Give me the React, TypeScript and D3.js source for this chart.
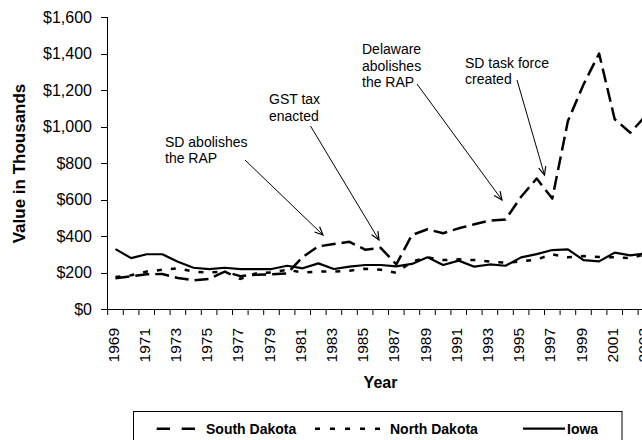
import React from "react";
import * as d3 from "d3";

const years: number[] = d3.range(1969, 2004);
const southDakota: number[] = [168, 180, 190, 192, 170, 157, 165, 205, 180, 188, 190, 195, 285, 343, 356, 368, 325, 335, 245, 405, 437, 415, 442, 464, 485, 490, 615, 715, 605, 1030, 1230, 1400, 1040, 966, 1060];
const northDakota: number[] = [175, 185, 205, 215, 223, 205, 200, 205, 165, 195, 200, 215, 200, 205, 205, 210, 220, 215, 198, 260, 283, 268, 272, 268, 260, 254, 260, 272, 300, 283, 290, 285, 283, 278, 300];
const iowa: number[] = [328, 279, 300, 300, 259, 226, 219, 226, 219, 219, 219, 237, 223, 250, 219, 232, 241, 241, 234, 247, 283, 241, 265, 232, 244, 237, 283, 301, 323, 327, 268, 261, 309, 294, 305];
const yTicks: number[] = [0, 200, 400, 600, 800, 1000, 1200, 1400, 1600];
const seriesNames: string[] = ["South Dakota", "North Dakota", "Iowa"];

const annotations = [
  { lines: ["SD abolishes", "the RAP"], x: 165, y: 146.5, from: [245, 160], to: [323, 235] },
  { lines: ["GST tax", "enacted"], x: 269, y: 104, from: [310.5, 126], to: [379, 240] },
  { lines: ["Delaware", "abolishes", "the RAP"], x: 362, y: 54, from: [417, 84], to: [502, 200] },
  { lines: ["SD task force", "created"], x: 465, y: 67.5, from: [517, 80], to: [544.5, 175] },
];

const FONT = "Arial, 'Liberation Sans', sans-serif";

function Arrow({ from, to }: { from: number[]; to: number[] }) {
  const ang = Math.atan2(to[1] - from[1], to[0] - from[0]);
  const len = 9;
  const spread = 0.42;
  const p1 = [to[0] - len * Math.cos(ang - spread), to[1] - len * Math.sin(ang - spread)];
  const p2 = [to[0] - len * Math.cos(ang + spread), to[1] - len * Math.sin(ang + spread)];
  return (
    <g stroke="#000" fill="none" strokeWidth={1}>
      <line x1={from[0]} y1={from[1]} x2={to[0]} y2={to[1]} />
      <path d={`M${p1[0]},${p1[1]}L${to[0]},${to[1]}L${p2[0]},${p2[1]}`} strokeWidth={1.2} />
    </g>
  );
}

export default function App() {
  const left = 107.7;
  const band = 15.6;
  const x = d3.scaleBand<number>().domain(years).range([left, left + band * years.length]).padding(0);
  const y = d3.scaleLinear().domain([0, 1600]).range([309, 17]);
  const cx = (yr: number) => (x(yr) as number) + x.bandwidth() / 2;

  const mk = (vals: number[]) =>
    d3.line<number>().x((_, i) => cx(years[i])).y((v) => y(v))(vals) as string;

  const series = [
    { name: seriesNames[0], vals: southDakota, dash: "14,6", width: 2.5 },
    { name: seriesNames[1], vals: northDakota, dash: "5,9", width: 2.5 },
    { name: seriesNames[2], vals: iowa, dash: "none", width: 2.2 },
  ];

  const tickBounds = d3.range(0, years.length + 1).map((k) => left + k * band);

  return (
    <svg
      width={642}
      height={440}
      style={{ position: "absolute", left: 0, top: 0, background: "#fff" }}
      fontFamily={FONT}
    >
      <rect x={0} y={0} width={642} height={440} fill="#fff" />
      {/* y axis */}
      <line x1={107.5} y1={y(1600)} x2={107.5} y2={y(0)} stroke="#000" strokeWidth={1} />
      {yTicks.map((t) => (
        <g key={t}>
          <line x1={101} x2={107.5} y1={Math.round(y(t)) + 0.5} y2={Math.round(y(t)) + 0.5} stroke="#000" />
          <text x={92} y={y(t)} dy="0.36em" textAnchor="end" fontSize={16}>
            {"$" + d3.format(",")(t)}
          </text>
        </g>
      ))}
      {/* x axis */}
      <line x1={107.5} x2={660} y1={309.5} y2={309.5} stroke="#000" />
      {tickBounds.map((tx, k) => (
        <line key={k} x1={tx} x2={tx} y1={309.5} y2={315} stroke="#000" />
      ))}
      {years.map((yr, i) =>
        i % 2 === 0 ? (
          <text
            key={yr}
            transform={`translate(${cx(yr) + 3},${328}) rotate(-90)`}
            textAnchor="end"
            fontSize={15.5}
          >
            {yr}
          </text>
        ) : null
      )}
      <text x={380.5} y={388} textAnchor="middle" fontSize={16} fontWeight="bold">
        Year
      </text>
      <text transform="translate(25,163.5) rotate(-90)" textAnchor="middle" fontSize={17} fontWeight="bold">
        Value in Thousands
      </text>

      {/* series */}
      {series.map((s) => (
        <path
          key={s.name}
          d={mk(s.vals)}
          fill="none"
          stroke="#000"
          strokeWidth={s.width}
          strokeDasharray={s.dash}
          strokeLinejoin="round"
        />
      ))}

      {/* annotations */}
      {annotations.map((a, i) => (
        <g key={i}>
          {a.lines.map((ln, j) => (
            <text key={j} x={a.x} y={a.y + j * 16.5} fontSize={14}>
              {ln}
            </text>
          ))}
          <Arrow from={a.from} to={a.to} />
        </g>
      ))}

      {/* legend */}
      <rect x={133.5} y={411.5} width={488.5} height={60} fill="#fff" stroke="#000" strokeWidth={1} />
      <line x1={156.7} x2={195} y1={428.7} y2={428.7} stroke="#000" strokeWidth={2.5} strokeDasharray="13.3,11.7" />
      <text x={206} y={433.5} fontSize={14} fontWeight="bold">{seriesNames[0]}</text>
      <line x1={315} x2={386} y1={428.7} y2={428.7} stroke="#000" strokeWidth={2.5} strokeDasharray="5,10" />
      <text x={390} y={433.5} fontSize={14} fontWeight="bold">{seriesNames[1]}</text>
      <line x1={523} x2={565} y1={428.7} y2={428.7} stroke="#000" strokeWidth={2.2} />
      <text x={567} y={433.5} fontSize={14} fontWeight="bold">{seriesNames[2]}</text>
    </svg>
  );
}
